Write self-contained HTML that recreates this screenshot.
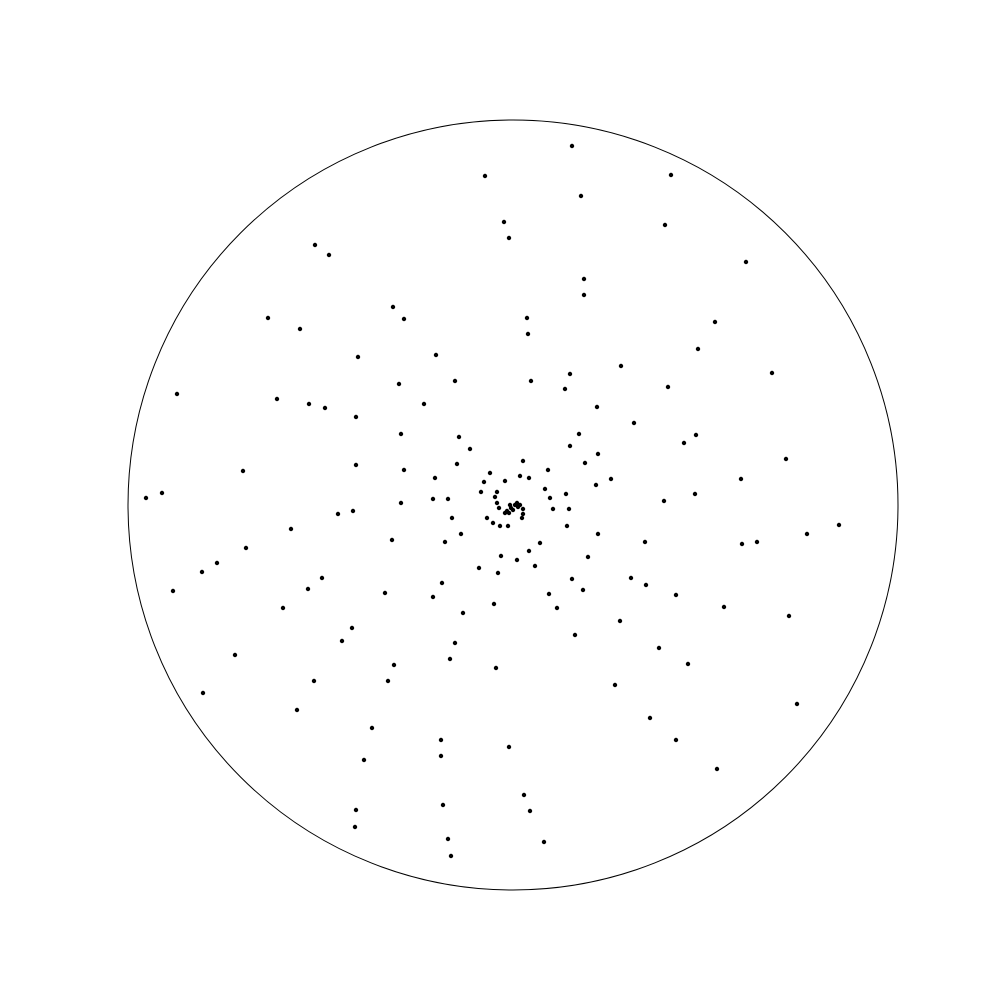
<!DOCTYPE html>
<html><head><meta charset="utf-8"><style>html,body{margin:0;background:#fff}svg{display:block}</style></head>
<body>
<svg id="chart" width="1000" height="1000" viewBox="0 0 1000 1000" xmlns="http://www.w3.org/2000/svg">
<circle cx="513" cy="505" r="385" fill="none" stroke="#000" stroke-width="1"/>
<g id="pts"></g>
</svg>
<script>
// data values in data units (radial axis max = 385)
const xVals = [59,-28,158,68,-9,152,-4,-198,-184,233,71,71,-120,-109,-245,14,202,-213,15,185,-77,-155,108,57,259,-58,18,-114,155,52,-336,-236,-204,-188,-89,84,-157,121,-112,66,183,-54,171,-43,57,-157,-56,72,85,273,-109,-270,98,-78,228,83,182,-351,-367,-112,-80,-65,151,-160,-175,326,294,-61,-222,85,229,244,132,-121,-68,16,-267,-12,-296,75,-311,4,22,-34,-15,-191,59,118,133,-205,-71,70,-340,-128,-80,36,163,44,-19,-230,211,-50,276,107,-161,62,-171,-58,146,-278,-63,-119,175,-17,-125,-199,102,-310,284,-216,137,-141,-72,163,-4,-72,-149,204,11,-70,17,-157,-158,-65,31,-62,
10,35,-23,7,16,-8,-29,-32,-16,32,53,-18,37,-16,-14,10,40,56,10,9,-26,-20,-13,-5,54,-52,27,
-3,4,5,0,-4,-8,7,2,-2,-6];
const yVals = [359,329,330,309,283,280,267,260,250,243,226,210,198,186,187,187,183,176,171,156,150,148,139,131,132,124,124,121,118,116,111,106,101,97,101,98,88,82,71,71,70,68,62,56,59,40,41,42,51,46,35,34,26,27,26,20,11,12,7,2,6,6,4,-6,-9,-20,-29,-13,-24,-29,-39,-37,-37,-35,-37,-46,-43,-51,-58,-52,-67,-55,-61,-63,-68,-73,-74,-73,-80,-84,-78,-85,-86,-88,-92,-89,-90,-103,-99,-103,-102,-108,-111,-116,-123,-130,-136,-138,-143,-150,-154,-160,-159,-163,-176,-176,-180,-188,-199,-205,-213,-223,-235,-235,-242,-251,-255,-264,-290,-300,-306,-305,-322,-334,-337,-351,
44,35,32,29,27,24,23,13,13,16,11,8,7,2,-3,-4,-4,-4,-9,-13,-13,-18,-21,-21,-21,-29,-38,
0,2,-2,-5,-8,-8,0,0,-3,-6];
const cx = 513, cy = 505, rMax = 385;
function sx(v){ return cx + v / rMax * 385; }
function sy(v){ return cy - v / rMax * 385; }
const g = document.getElementById('pts');
const n = Math.min(xVals.length, yVals.length);
for (let i = 0; i < n; i++) {
  const c = document.createElementNS('http://www.w3.org/2000/svg', 'circle');
  c.setAttribute('cx', sx(xVals[i]));
  c.setAttribute('cy', sy(yVals[i]));
  c.setAttribute('r', 2.2);
  c.setAttribute('fill', '#000');
  
  
  g.appendChild(c);
}
</script>
</body></html>
